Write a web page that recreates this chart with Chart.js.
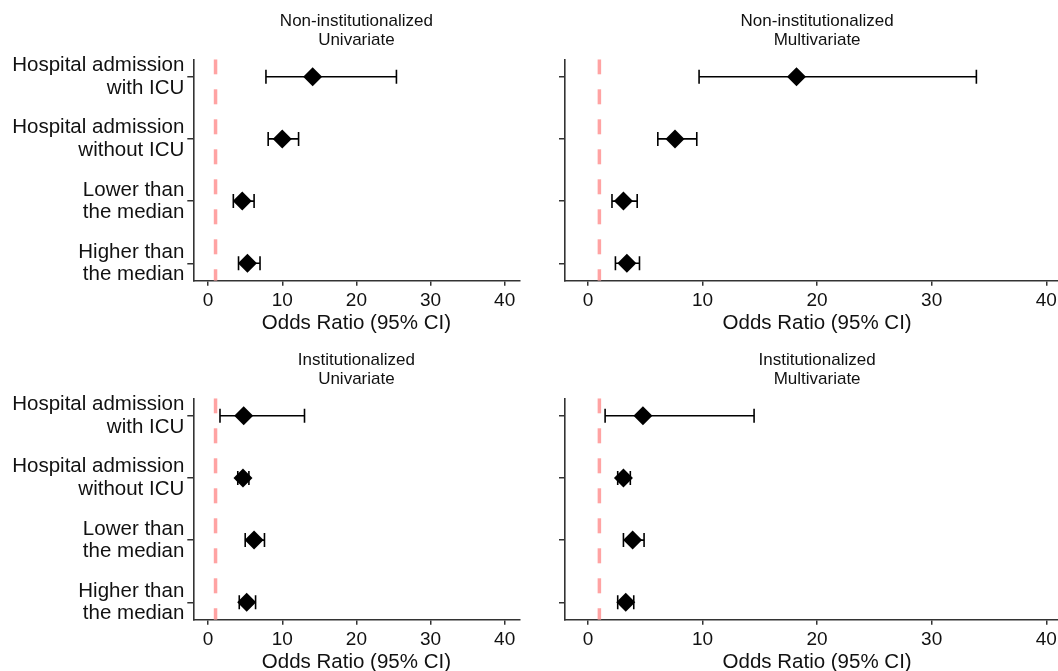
<!DOCTYPE html>
<html>
<head>
<meta charset="utf-8">
<script src="https://cdn.jsdelivr.net/npm/chart.js@4.4.1/dist/chart.umd.min.js"></script>
<style>
  html, body { margin: 0; padding: 0; background: #fff; overflow: hidden; width: 1058px; height: 671px; }
  canvas { position: absolute; }
</style>
</head>
<body>
<canvas id="nonInstUni" width="529" height="336" style="left:0;top:0"></canvas>
<canvas id="nonInstMulti" width="540" height="336" style="left:540px;top:0"></canvas>
<canvas id="instUni" width="529" height="336" style="left:0;top:339px"></canvas>
<canvas id="instMulti" width="540" height="336" style="left:540px;top:339px"></canvas>
<script>
// rows, top to bottom
const rowLabels = [
  ['Hospital admission', 'with ICU'],
  ['Hospital admission', 'without ICU'],
  ['Lower than', 'the median'],
  ['Higher than', 'the median']
];
const xTicks = [0, 10, 20, 30, 40];
const refLine = 1;

// Non-institutionalized, univariate
const nonInstUniOR = [14.1, 10.0, 4.6, 5.3];
const nonInstUniLow = [7.8, 8.1, 3.4, 4.1];
const nonInstUniHigh = [25.4, 12.2, 6.2, 7.0];

// Non-institutionalized, multivariate
const nonInstMultiOR = [18.2, 7.6, 3.1, 3.4];
const nonInstMultiLow = [9.7, 6.1, 2.1, 2.4];
const nonInstMultiHigh = [33.9, 9.5, 4.3, 4.5];

// Institutionalized, univariate
const instUniOR = [4.8, 4.7, 6.2, 5.2];
const instUniLow = [1.6, 4.0, 5.0, 4.2];
const instUniHigh = [13.0, 5.5, 7.6, 6.4];

// Institutionalized, multivariate
const instMultiOR = [4.8, 3.1, 3.9, 3.3];
const instMultiLow = [1.5, 2.6, 3.1, 2.6];
const instMultiHigh = [14.5, 3.7, 4.9, 4.0];

const FONT = "'Liberation Sans', Arial, sans-serif";
const INK = '#111';
const AXIS = '#333';

function makePanel(id, title, or, low, high, showLabels) {
  const datasets = [];
  // diamonds
  datasets.push({
    data: or.map((v, i) => ({ x: v, y: i + 1 })),
    pointStyle: 'rectRot',
    pointRadius: 9.5,
    backgroundColor: '#000',
    borderColor: '#000',
    borderWidth: 0
  });
  // confidence intervals with caps
  low.forEach((lo, i) => {
    datasets.push({
      data: [{ x: lo, y: i + 1 }, { x: high[i], y: i + 1 }],
      showLine: true,
      borderColor: '#000',
      borderWidth: 1.6,
      pointStyle: 'line',
      pointRotation: 90,
      pointRadius: 7,
      pointBorderWidth: 1.6,
      pointBorderColor: '#000'
    });
  });
  // reference line at OR = 1
  datasets.push({
    data: [{ x: refLine, y: 0.72 }, { x: refLine, y: 4.28 }],
    showLine: true,
    borderColor: '#FFA3A3',
    borderWidth: 3.5,
    borderDash: [15, 15],
    pointRadius: 0
  });

  new Chart(document.getElementById(id), {
    type: 'scatter',
    data: { datasets: datasets },
    options: {
      responsive: false,
      animation: false,
      events: [],
      layout: { padding: { left: 0, right: showLabels ? 8.2 : 10.8, top: 0, bottom: 0.6 } },
      plugins: {
        legend: { display: false },
        tooltip: { enabled: false },
        title: {
          display: true,
          text: title,
          fullSize: false,
          color: INK,
          font: { family: FONT, size: 17, weight: 'normal', lineHeight: 1.1 },
          padding: { top: 12.3, bottom: 9.6 }
        }
      },
      scales: {
        x: {
          type: 'linear',
          min: -2,
          max: 42,
          afterBuildTicks: s => { s.ticks = xTicks.map(v => ({ value: v })); },
          afterFit: s => { s.height = 54.7; },
          border: { display: true, color: AXIS, width: 1.6 },
          grid: { drawOnChartArea: false, drawTicks: true, tickLength: 5, color: AXIS, lineWidth: 1.5 },
          ticks: { color: INK, padding: 4, font: { family: FONT, size: 19 } },
          title: {
            display: true,
            text: 'Odds Ratio (95% CI)',
            color: INK,
            padding: { top: 0, bottom: 0 },
            font: { family: FONT, size: 20.5, lineHeight: 1.2 }
          }
        },
        y: {
          type: 'linear',
          reverse: true,
          min: 0.72,
          max: 4.28,
          afterBuildTicks: s => { s.ticks = rowLabels.map((_, i) => ({ value: i + 1 })); },
          afterFit: s => { s.width = showLabels ? 193.3 : 25; },
          border: { display: true, color: AXIS, width: 1.6 },
          grid: { drawOnChartArea: false, drawTicks: true, tickLength: 6, color: AXIS, lineWidth: 1.5 },
          ticks: {
            color: INK,
            padding: 3,
            font: { family: FONT, size: 20.5, lineHeight: 1.09 },
            callback: v => showLabels ? rowLabels[v - 1] : ''
          }
        }
      }
    }
  });
}

makePanel('nonInstUni', ['Non-institutionalized', 'Univariate'], nonInstUniOR, nonInstUniLow, nonInstUniHigh, true);
makePanel('nonInstMulti', ['Non-institutionalized', 'Multivariate'], nonInstMultiOR, nonInstMultiLow, nonInstMultiHigh, false);
makePanel('instUni', ['Institutionalized', 'Univariate'], instUniOR, instUniLow, instUniHigh, true);
makePanel('instMulti', ['Institutionalized', 'Multivariate'], instMultiOR, instMultiLow, instMultiHigh, false);
</script>
</body>
</html>
